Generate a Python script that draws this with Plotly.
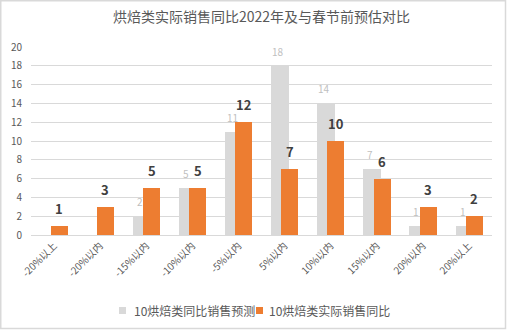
import plotly.graph_objects as go

categories = ["-20%以上", "-20%以内", "-15%以内", "-10%以内", "-5%以内",
              "5%以内", "10%以内", "15%以内", "20%以内", "20%以上"]
forecast = [0, 0, 2, 5, 11, 18, 14, 7, 1, 1]
actual = [1, 3, 5, 5, 12, 7, 10, 6, 3, 2]
series_names = ["10烘焙类同比销售预测", "10烘焙类实际销售同比"]
series_colors = ["#d9d9d9", "#ed7d31"]
title_text = "烘焙类实际销售同比2022年及与春节前预估对比"
y_ticks = list(range(0, 21, 2))

FONT = "Noto Sans CJK SC, Noto Sans, sans-serif"
W, H = 507, 330
L, R, T, B = 31, 15, 47, 95
pw, ph = W - L - R, H - T - B


def px(x):
    return (x - L) / pw


def py(y):
    return (T + ph - y) / ph


xs = list(range(len(categories)))
g_off, g_w = -0.29, 0.39
o_off, o_w = -0.07, 0.37

fig = go.Figure()
fig.add_trace(go.Bar(
    x=xs, y=forecast, name=series_names[0],
    marker=dict(color=series_colors[0], line=dict(width=0)),
    width=g_w, offset=g_off, showlegend=False,
))
fig.add_trace(go.Bar(
    x=xs, y=actual, name=series_names[1],
    marker=dict(color=series_colors[1], line=dict(width=0)),
    width=o_w, offset=o_off, showlegend=False,
))

# data labels (annotations, drawn above the bars)
for i, v in zip(xs, forecast):
    if v:
        fig.add_annotation(x=i + g_off + g_w / 2, y=v, text=str(v),
                           showarrow=False, xanchor="center",
                           yanchor="bottom", yshift=5, xshift=-2,
                           font=dict(color="#bfbfbf", size=10, family=FONT))
for i, v in zip(xs, actual):
    fig.add_annotation(x=i + o_off + o_w / 2, y=v, text=str(v),
                       showarrow=False, xanchor="center",
                       yanchor="bottom", yshift=6,
                       font=dict(color="#404040", size=13, family=FONT,
                                 weight="bold"))

fig.update_layout(
    width=W, height=H,
    margin=dict(l=L, r=R, t=T, b=B),
    paper_bgcolor="white", plot_bgcolor="white",
    barmode="overlay",
    title=dict(text=title_text, x=0.5, xref="paper", xanchor="center",
               y=1 - 17 / H, yanchor="middle",
               font=dict(size=14, color="#595959", family=FONT)),
    font=dict(family=FONT, color="#595959"),
    xaxis=dict(tickmode="array", tickvals=xs, ticktext=categories,
               tickangle=-45, range=[-0.5, len(categories) - 0.5],
               showgrid=False, showline=True, linecolor="#d9d9d9",
               ticks="", tickfont=dict(size=10, color="#595959")),
    yaxis=dict(range=[0, 20], tickvals=y_ticks, showgrid=True,
               gridcolor="#d9d9d9", zeroline=False, showline=False,
               ticks="", ticklabelstandoff=8,
               tickfont=dict(size=10, color="#595959")),
    showlegend=False,
    bargap=0,
)

# custom legend (compact Excel-style legend)
legend_items = [(119, 132), (256, 267)]
for (sx, tx), name, col in zip(legend_items, series_names, series_colors):
    fig.add_shape(type="rect", xref="paper", yref="paper",
                  x0=px(sx), x1=px(sx + 7), y0=py(314), y1=py(307),
                  fillcolor=col, line=dict(width=0))
    fig.add_annotation(xref="paper", yref="paper", x=px(tx), y=py(310.5),
                       text=name, showarrow=False, xanchor="left",
                       yanchor="middle",
                       font=dict(size=12, color="#595959", family=FONT))

# chart-area border
fig.add_shape(type="rect", xref="paper", yref="paper",
              x0=px(0.75), x1=px(W - 1.5), y0=py(H - 1.5), y1=py(0.75),
              line=dict(color="#d9d9d9", width=1.5), layer="below")

fig.write_html("out.html")
